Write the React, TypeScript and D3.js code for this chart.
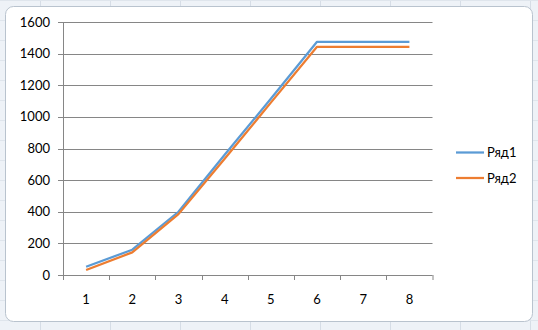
import React from "react";
import * as d3 from "d3";

const categories = ["1", "2", "3", "4", "5", "6", "7", "8"];
const series1 = [52, 160, 400, 760, 1115, 1475, 1475, 1475];
const series2 = [32, 143, 385, 735, 1090, 1443, 1443, 1443];
const seriesNames = ["Ряд1", "Ряд2"];
const seriesColors = ["#5B9BD5", "#ED7D31"];
const yTicks = [0, 200, 400, 600, 800, 1000, 1200, 1400, 1600];

const W = 538, H = 330;
const left = 63, right = 432.5, top = 22, bottom = 275;

export default function App() {
  const x = d3.scaleBand<string>().domain(categories).range([left, right]);
  const y = d3.scaleLinear().domain([0, 1600]).range([bottom, top]);
  const line = d3.line<number>()
    .x((_, i) => (x(categories[i]) as number) + x.bandwidth() / 2)
    .y((d) => y(d));
  const all = [series1, series2];
  const font = "Lato, 'Open Sans', sans-serif";
  const colLines = d3.range(40.5, W, 70);
  const rowLines = d3.range(0.5, H, 20);
  return (
    <svg width={W} height={H} style={{ position: "absolute", left: 0, top: 0, display: "block" }}>
      <rect x={0} y={0} width={W} height={H} fill="#eef2f7" />
      {colLines.map((c) => (
        <line key={"c" + c} x1={c} x2={c} y1={0} y2={H} stroke="#d6dde6" />
      ))}
      {rowLines.map((r) => (
        <line key={"r" + r} x1={0} x2={W} y1={r} y2={r} stroke="#dfe5ec" />
      ))}
      <rect x={5.5} y={6.5} width={527} height={315} rx={8} fill="#ffffff" stroke="#b9c3ce" />
      {yTicks.map((t) => (
        <g key={t}>
          <line x1={58} x2={right} y1={Math.round(y(t)) + 0.5} y2={Math.round(y(t)) + 0.5} stroke="#868686" />
          <text x={50} y={y(t)} dy="0.35em" textAnchor="end" fontFamily={font} fontSize={13} fill="#000">
            {t}
          </text>
        </g>
      ))}
      <line x1={left + 0.5} x2={left + 0.5} y1={y(1600)} y2={bottom} stroke="#868686" />
      {categories.map((c, i) => (
        <g key={c}>
          <line
            x1={Math.round(x(c) as number) + 0.5}
            x2={Math.round(x(c) as number) + 0.5}
            y1={bottom}
            y2={bottom + 5}
            stroke="#868686"
          />
          <text
            x={(x(c) as number) + x.bandwidth() / 2}
            y={299}
            dy="0.35em"
            textAnchor="middle"
            fontFamily={font}
            fontSize={13}
          >
            {c}
          </text>
        </g>
      ))}
      <line x1={right + 0.5} x2={right + 0.5} y1={bottom} y2={bottom + 5} stroke="#868686" />
      {all.map((s, i) => (
        <path key={i} d={line(s) as string} fill="none" stroke={seriesColors[i]} strokeWidth={2.25} strokeLinejoin="round" />
      ))}
      {seriesNames.map((n, i) => (
        <g key={n}>
          <line x1={456} x2={484} y1={152.5 + i * 25.5} y2={152.5 + i * 25.5} stroke={seriesColors[i]} strokeWidth={2.25} />
          <text x={487} y={152.5 + i * 25.5} dy="0.35em" fontFamily={font} fontSize={13}>
            {n}
          </text>
        </g>
      ))}
    </svg>
  );
}
